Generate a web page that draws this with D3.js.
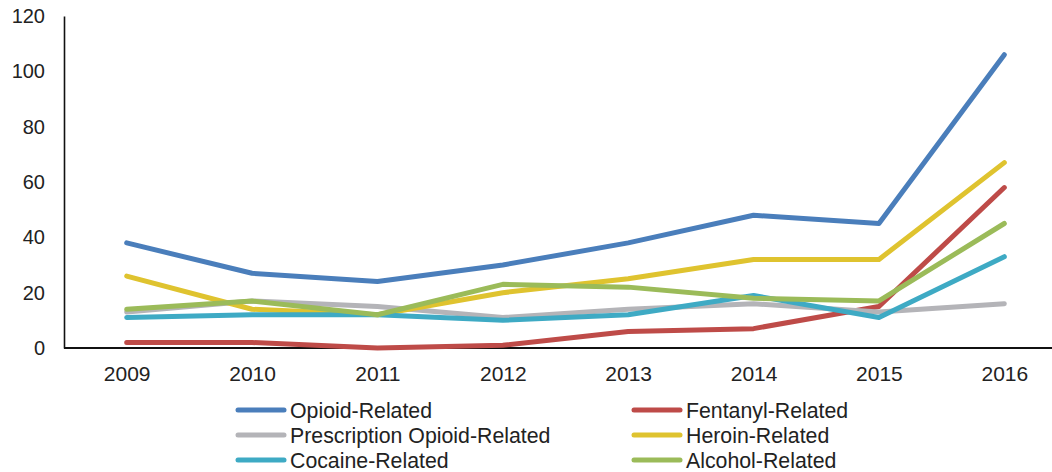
<!DOCTYPE html>
<html>
<head>
<meta charset="utf-8">
<script src="https://cdn.jsdelivr.net/npm/d3@7"></script>
<style>
  html, body { margin: 0; padding: 0; background: #fff; }
  svg { display: block; font-family: "Liberation Sans", Arial, sans-serif; }
</style>
</head>
<body>
<svg id="chart" width="1052" height="472"></svg>
<script>
// Years on the x axis
const years = ["2009", "2010", "2011", "2012", "2013", "2014", "2015", "2016"];

// Counts per year for each series
const opioidRelated       = [38, 27, 24, 30, 38, 48, 45, 106];
const fentanylRelated     = [2, 2, 0, 1, 6, 7, 15, 58];
const prescriptionOpioid  = [13, 17, 15, 11, 14, 16, 13, 16];
const heroinRelated       = [26, 14, 12, 20, 25, 32, 32, 67];
const cocaineRelated      = [11, 12, 12, 10, 12, 19, 11, 33];
const alcoholRelated      = [14, 17, 12, 23, 22, 18, 17, 45];

const seriesNames = [
  "Opioid-Related", "Fentanyl-Related",
  "Prescription Opioid-Related", "Heroin-Related",
  "Cocaine-Related", "Alcohol-Related"
];
const yTicks = [0, 20, 40, 60, 80, 100, 120];

const seriesValues = [
  opioidRelated, fentanylRelated, prescriptionOpioid,
  heroinRelated, cocaineRelated, alcoholRelated
];
const colors = ["#4a7ebb", "#be4b48", "#b4b4b8", "#dfc32f", "#3eaac4", "#9bbb59"];

const svg = d3.select("#chart");
const plotLeft = 64, plotRight = 1067, plotTop = 16, plotBottom = 348;

const x = d3.scalePoint().domain(years).range([plotLeft, plotRight]).padding(0.5);
const y = d3.scaleLinear().domain([0, 120]).range([plotBottom, plotTop]);

// Y axis
const yAxis = svg.append("g")
  .attr("transform", `translate(${plotLeft},0)`)
  .call(d3.axisLeft(y).tickValues(yTicks).tickSize(0).tickPadding(19));
yAxis.select(".domain").attr("stroke", "#111").attr("stroke-width", 1.6);
yAxis.selectAll("text").attr("font-size", 20).attr("fill", "#222")
  .attr("font-family", "Liberation Sans, Arial, sans-serif");

// X axis
const xAxis = svg.append("g")
  .attr("transform", `translate(0,${plotBottom})`)
  .call(d3.axisBottom(x).tickSize(0).tickPadding(18));
xAxis.select(".domain").attr("stroke", "#111").attr("stroke-width", 2)
  .attr("d", `M${plotLeft},0H1052`);
xAxis.selectAll("text").attr("font-size", 21).attr("fill", "#222")
  .attr("font-family", "Liberation Sans, Arial, sans-serif");

// Lines
const line = d3.line()
  .x((d, i) => x(years[i]))
  .y(d => y(d));

seriesValues.forEach((vals, k) => {
  svg.append("path")
    .datum(vals)
    .attr("fill", "none")
    .attr("stroke", colors[k])
    .attr("stroke-width", 5)
    .attr("stroke-linejoin", "round")
    .attr("stroke-linecap", "round")
    .attr("d", line);
});

// Legend: two columns, three rows
const legend = svg.append("g");
const colX = [237, 633];
const rowY = [410, 435, 460];
seriesNames.forEach((name, k) => {
  const cx = colX[k % 2], cy = rowY[Math.floor(k / 2)];
  const g = legend.append("g").attr("transform", `translate(${cx},${cy})`);
  g.append("line")
    .attr("x1", 1).attr("x2", 47).attr("y1", 0).attr("y2", 0)
    .attr("stroke", colors[k]).attr("stroke-width", 5)
    .attr("stroke-linecap", "round");
  g.append("text")
    .attr("x", 53).attr("y", 0).attr("dy", "0.36em")
    .attr("font-size", 21.3).attr("fill", "#222")
    .text(name);
});
</script>
</body>
</html>
